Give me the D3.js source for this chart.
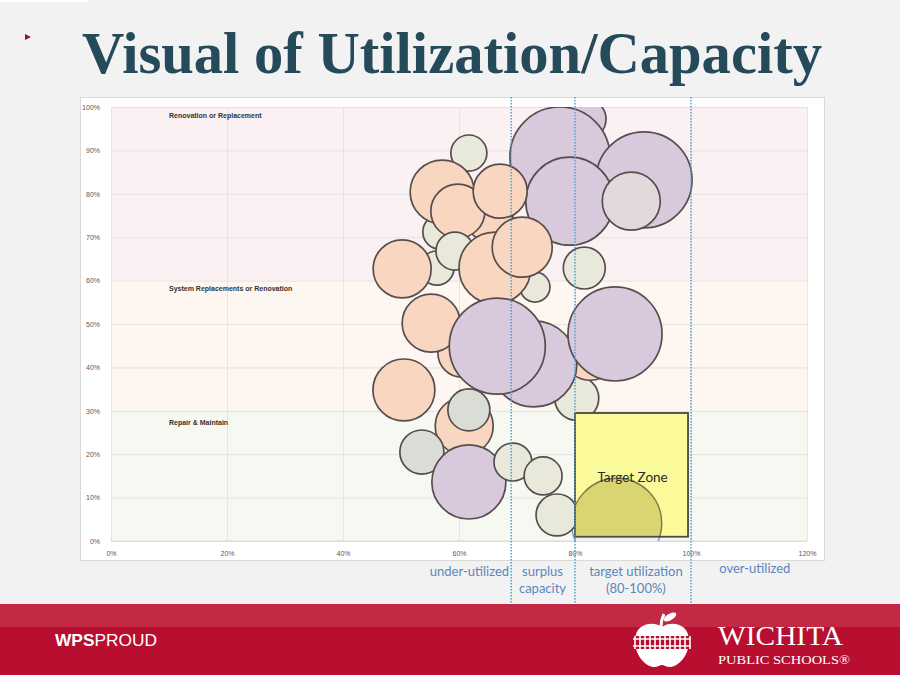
<!DOCTYPE html>
<html><head><meta charset="utf-8">
<script src="https://cdn.jsdelivr.net/npm/d3@7"></script>
<style>body{margin:0;background:#f2f2f2;} svg{display:block;}</style>
</head><body><svg id="c" width="900" height="675"></svg>
<script>
// ---------------- DATA ----------------
const titleText = "Visual of Utilization/Capacity";
const xTickValues = [0, 20, 40, 60, 80, 100, 120];
const yTickValues = [0, 10, 20, 30, 40, 50, 60, 70, 80, 90, 100];
const bandFrom = [60, 30, 0];
const bandTo = [100, 60, 30];
const bandLabels = ["Renovation or Replacement", "System Replacements or Renovation", "Repair & Maintain"];
const bandLabelY = [98, 58, 27.3];
const dividerValues = [69, 80, 100];
const zoneLabelLines = [["under-utilized"], ["surplus", "capacity"], ["target utilization", "(80-100%)"], ["over-utilized"]];
const zoneLabelX = [61.8, 74.4, 90.5, 111];
const targetZone = { x0: 80, x1: 99.5, y0: 1, y1: 29.5, label: "Target Zone" };

// bubbles (drawing order back to front): utilization %, condition %, size, group
const bubbleUtil = [81.9, 77.4, 91.9, 79.1, 89.7,
  61.7, 56.7, 65.0, 57.1, 59.8, 67.1, 56.2, 59.3, 73.1, 50.2, 66.2, 70.9, 81.6,
  80.3, 82.6, 60.5, 55.2, 72.9, 66.6, 86.9, 50.5, 60.9, 61.7, 53.6, 61.7, 69.3, 74.5];
const bubbleCond = [97.2, 88.5, 83.2, 78.3, 78.3,
  89.4, 71.2, 75.1, 80.4, 76.0, 80.6, 62.9, 66.8, 58.5, 62.7, 62.9, 67.7, 62.9,
  32.9, 43.5, 43.3, 50.2, 40.8, 44.9, 47.7, 34.8, 26.5, 30.2, 20.5, 13.6, 18.2, 15.0];
const bubbleSize = [160, 1000, 922, 774, 336,
  130, 116, 250, 410, 292, 292, 116, 144, 90, 336, 518, 360, 176,
  194, 314, 230, 336, 740, 922, 884, 384, 336, 176, 194, 548, 144, 144];
const bubbleGroup = ["lav", "lav", "lav", "lav", "mauve",
  "sage", "sage", "peach", "peach", "peach", "peach", "sage", "sage", "sage", "peach", "peach", "peach", "sage",
  "sage", "peach", "peach", "peach", "lav", "lav", "lav", "peach", "peach", "gray", "gray", "lav", "sage", "sage"];
// bubbles related to the target zone
const zoneBubbleUtil = [87.2];
const zoneBubbleCond = [4.1];
const zoneBubbleSize = [810];
const frontBubbleUtil = [76.9];
const frontBubbleCond = [6.0];
const frontBubbleSize = [176];

// ---------------- DRAW ----------------
const svg = d3.select("#c");
const colors = { peach: "#f9d6c0", lav: "#d8c9dc", sage: "#e8e9da", gray: "#dadcd6", mauve: "#e1d9da" };
const stroke = "#564e4e";

// top-left strip & bullet
svg.append("rect").attr("x", 0).attr("y", 0).attr("width", 88).attr("height", 2).attr("fill", "#ffffff");
svg.append("path").attr("d", "M25,34 L31,37 L25,40 Z").attr("fill", "#8b1a2b");

// title
svg.append("text").attr("x", 82).attr("y", 73)
  .attr("font-family", "Liberation Serif, serif").attr("font-weight", "bold")
  .attr("font-size", 60).attr("fill", "#254b5b")
  .attr("textLength", 740).attr("lengthAdjust", "spacingAndGlyphs")
  .text(titleText);

// chart frame
svg.append("rect").attr("x", 80.5).attr("y", 97.5).attr("width", 744).attr("height", 463)
  .attr("fill", "#ffffff").attr("stroke", "#d9d9d9");

const x = d3.scaleLinear().domain([0, 120]).range([111, 807]);
const y = d3.scaleLinear().domain([0, 100]).range([541, 107]);
const r = d3.scaleSqrt().domain([0, 1000]).range([0, 50]);

const bandColors = ["#fbf1f2", "#fdf6f1", "#f6f9f1"];
svg.selectAll("rect.band").data(bandFrom).enter().append("rect").attr("class", "band")
  .attr("x", x(0)).attr("width", x(120) - x(0))
  .attr("y", (d, i) => y(bandTo[i])).attr("height", (d, i) => y(d) - y(bandTo[i]))
  .attr("fill", (d, i) => bandColors[i]);

// gridlines
const gy = svg.append("g").attr("transform", `translate(${x(0)},0)`)
  .call(d3.axisLeft(y).tickValues(yTickValues).tickSize(-(x(120) - x(0))).tickFormat(""));
gy.select(".domain").remove();
gy.selectAll("line").attr("stroke", "#e4e2e2").attr("stroke-width", 1);
const gx = svg.append("g").attr("transform", `translate(0,${y(0)})`)
  .call(d3.axisBottom(x).tickValues(xTickValues).tickSize(-(y(0) - y(100))).tickFormat(""));
gx.select(".domain").remove();
gx.selectAll("line").attr("stroke", "#e6e4e4").attr("stroke-width", 1);
svg.append("line").attr("x1", x(0)).attr("x2", x(120)).attr("y1", y(0)).attr("y2", y(0))
  .attr("stroke", "#d9d9d9");

// tick labels
const ay = svg.append("g").attr("transform", `translate(${x(0) - 8},0)`)
  .call(d3.axisLeft(y).tickValues(yTickValues).tickSize(0).tickFormat(d => d + "%"));
ay.select(".domain").remove();
ay.selectAll("text").attr("font-family", "Liberation Sans, Arial, sans-serif").attr("font-size", 7).attr("fill", "#595959");
const ax = svg.append("g").attr("transform", `translate(0,${y(0) + 7})`)
  .call(d3.axisBottom(x).tickValues(xTickValues).tickSize(0).tickFormat(d => d + "%"));
ax.select(".domain").remove();
ax.selectAll("text").attr("font-family", "Liberation Sans, Arial, sans-serif").attr("font-size", 7).attr("fill", "#595959");

// band labels
svg.selectAll("text.band").data(bandLabels).enter().append("text").attr("class", "band")
  .attr("x", x(10)).attr("y", (d, i) => y(bandLabelY[i]) + 2)
  .attr("font-family", "Liberation Sans, Arial, sans-serif").attr("font-weight", "bold")
  .attr("font-size", 7).attr("fill", "#333")
  .text(d => d);

// clip to plot area
const defs = svg.append("defs");
defs.append("clipPath").attr("id", "plotclip").append("rect")
  .attr("x", x(0)).attr("y", y(100)).attr("width", x(120) - x(0)).attr("height", y(0) - y(100));
defs.append("clipPath").attr("id", "zoneclip").append("rect")
  .attr("x", x(targetZone.x0)).attr("y", y(targetZone.y1))
  .attr("width", x(targetZone.x1) - x(targetZone.x0)).attr("height", y(targetZone.y0) - y(targetZone.y1));

const plot = svg.append("g").attr("clip-path", "url(#plotclip)");
plot.selectAll("circle.b").data(bubbleUtil).enter().append("circle").attr("class", "b")
  .attr("cx", d => x(d)).attr("cy", (d, i) => y(bubbleCond[i])).attr("r", (d, i) => r(bubbleSize[i]))
  .attr("fill", (d, i) => colors[bubbleGroup[i]]).attr("stroke", stroke).attr("stroke-width", 1.7);

// target-zone bubble (behind the zone)
plot.selectAll("circle.z").data(zoneBubbleUtil).enter().append("circle").attr("class", "z")
  .attr("cx", d => x(d)).attr("cy", (d, i) => y(zoneBubbleCond[i])).attr("r", (d, i) => r(zoneBubbleSize[i]))
  .attr("fill", "#eef0f4").attr("stroke", "#6e8fb0").attr("stroke-width", 1.2);

// target zone
svg.append("rect").attr("x", x(targetZone.x0)).attr("y", y(targetZone.y1))
  .attr("width", x(targetZone.x1) - x(targetZone.x0)).attr("height", y(targetZone.y0) - y(targetZone.y1))
  .attr("fill", "#fafa9a").attr("stroke", "#4d4d45").attr("stroke-width", 1.5);
const zg = svg.append("g").attr("clip-path", "url(#zoneclip)");
zg.selectAll("circle").data(zoneBubbleUtil).enter().append("circle")
  .attr("cx", d => x(d)).attr("cy", (d, i) => y(zoneBubbleCond[i])).attr("r", (d, i) => r(zoneBubbleSize[i]))
  .attr("fill", "#b7b14a").attr("fill-opacity", 0.5).attr("stroke", "#7d7a48").attr("stroke-width", 1.4);
svg.append("rect").attr("x", x(targetZone.x0)).attr("y", y(targetZone.y1))
  .attr("width", x(targetZone.x1) - x(targetZone.x0)).attr("height", y(targetZone.y0) - y(targetZone.y1))
  .attr("fill", "none").attr("stroke", "#4d4d45").attr("stroke-width", 1.5);
svg.append("text").attr("x", (x(targetZone.x0) + x(targetZone.x1)) / 2 + 1).attr("y", 482)
  .attr("text-anchor", "middle").attr("font-family", "Lato, Carlito, sans-serif").attr("font-size", 13.5)
  .attr("fill", "#2b2b2b").text(targetZone.label);

plot.selectAll("circle.f").data(frontBubbleUtil).enter().append("circle").attr("class", "f")
  .attr("cx", d => x(d)).attr("cy", (d, i) => y(frontBubbleCond[i])).attr("r", (d, i) => r(frontBubbleSize[i]))
  .attr("fill", colors.sage).attr("stroke", stroke).attr("stroke-width", 1.7);

// dotted dividers
svg.selectAll("line.div").data(dividerValues).enter().append("line").attr("class", "div")
  .attr("x1", d => x(d)).attr("x2", d => x(d)).attr("y1", 97).attr("y2", 603)
  .attr("stroke", "#4ea2d0").attr("stroke-width", 1.5).attr("stroke-dasharray", "1.5,1.5");

// zone labels under axis
zoneLabelLines.forEach((lines, i) => {
  const t = svg.append("text").attr("text-anchor", "middle")
    .attr("font-family", "Lato, Carlito, sans-serif").attr("font-size", 13).attr("fill", "#5a86bd");
  lines.forEach((s, j) => {
    t.append("tspan").attr("x", x(zoneLabelX[i])).attr("y", (i === 3 ? 573 : 576) + j * 16.5).text(s);
  });
});

// footer
svg.append("rect").attr("x", 0).attr("y", 604).attr("width", 900).attr("height", 71).attr("fill", "#b80e2f");
svg.append("rect").attr("x", 0).attr("y", 604).attr("width", 900).attr("height", 23).attr("fill", "#c12944");
const wps = svg.append("text").attr("x", 55).attr("y", 646).attr("fill", "#ffffff")
  .attr("font-family", "Liberation Sans, Arial, sans-serif").attr("font-size", 17)
  .attr("textLength", 102).attr("lengthAdjust", "spacingAndGlyphs");
wps.append("tspan").attr("font-weight", "bold").text("WPS");
wps.append("tspan").text("PROUD");

// apple logo
const logo = svg.append("g").attr("transform", "translate(662,642)");
logo.append("path")
  .attr("d", "M0,-15 C-8,-21 -27,-20 -27,-1 C-27,15 -15,25 -8,25 C-4,25 -2,23 0,23 C2,23 4,25 8,25 C15,25 27,15 27,-1 C27,-20 8,-21 0,-15 Z")
  .attr("fill", "#ffffff");
logo.append("path").attr("d", "M-1,-15 C-1,-20 0,-24 2,-28").attr("stroke", "#ffffff").attr("stroke-width", 3).attr("fill", "none");
logo.append("ellipse").attr("cx", 8).attr("cy", -25).attr("rx", 7).attr("ry", 3.2)
  .attr("transform", "rotate(-30,8,-25)").attr("fill", "#ffffff");
logo.append("rect").attr("x", -29).attr("y", -6).attr("width", 58).attr("height", 13).attr("fill", "#b80e2f");
logo.append("line").attr("x1", -29).attr("x2", 29).attr("y1", -3).attr("y2", -3).attr("stroke", "#fff").attr("stroke-width", 1.5);
logo.append("line").attr("x1", -29).attr("x2", 29).attr("y1", 4).attr("y2", 4).attr("stroke", "#fff").attr("stroke-width", 1.5);
d3.range(-27, 29, 5).forEach(v => {
  logo.append("line").attr("x1", v).attr("x2", v).attr("y1", -6).attr("y2", 7).attr("stroke", "#fff").attr("stroke-width", 1.6);
});
svg.append("text").attr("x", 718).attr("y", 645).attr("fill", "#ffffff")
  .attr("font-family", "Liberation Serif, serif").attr("font-size", 28)
  .attr("textLength", 125).attr("lengthAdjust", "spacingAndGlyphs").text("WICHITA");
svg.append("text").attr("x", 718).attr("y", 664).attr("fill", "#ffffff")
  .attr("font-family", "Liberation Serif, serif").attr("font-size", 12)
  .attr("textLength", 132).attr("lengthAdjust", "spacingAndGlyphs").text("PUBLIC SCHOOLS®");
</script>
</body></html>
